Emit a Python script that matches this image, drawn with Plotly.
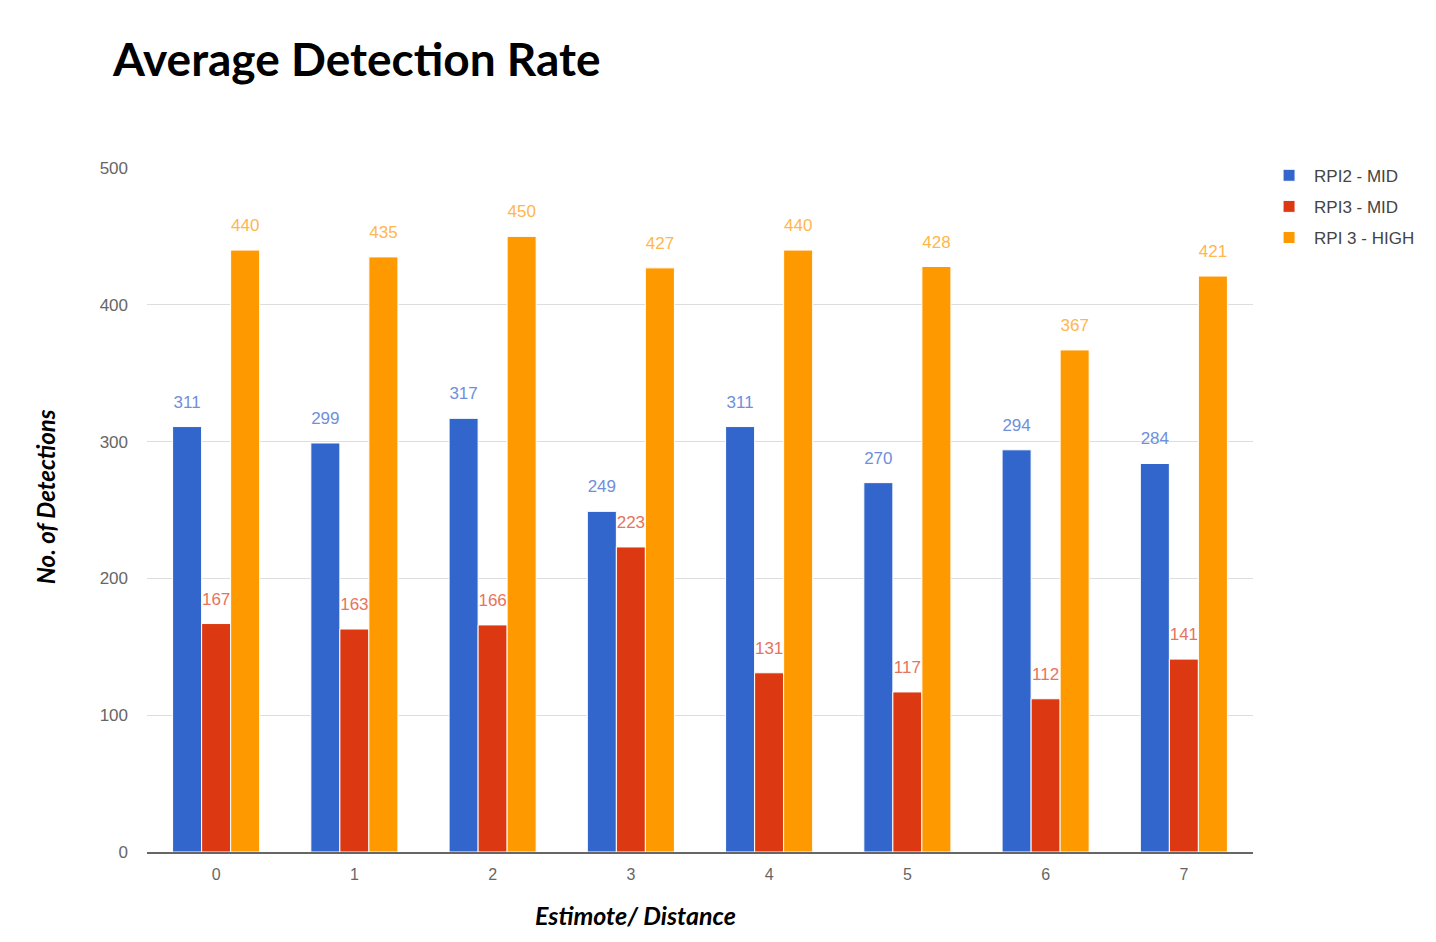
import plotly.graph_objects as go

# Datos
categorias = ["0", "1", "2", "3", "4", "5", "6", "7"]
rpi2_mid = [311, 299, 317, 249, 311, 270, 294, 284]
rpi3_mid = [167, 163, 166, 223, 131, 117, 112, 141]
rpi3_high = [440, 435, 450, 427, 440, 428, 367, 421]

series = [
    ("RPI2 - MID", rpi2_mid, "#3366cc", "#6f8fdc"),
    ("RPI3 - MID", rpi3_mid, "#dc3912", "#e8735c"),
    ("RPI 3 - HIGH", rpi3_high, "#ff9900", "#ffb64d"),
]

fig = go.Figure()
for nombre, valores, color, color_txt in series:
    fig.add_trace(go.Bar(
        x=categorias, y=valores, name=nombre, legendgroup=nombre,
        marker=dict(color=color, line=dict(color="white", width=1)),
    ))
# etiquetas de valores (scatter agrupado igual que las barras)
for nombre, valores, color, color_txt in series:
    fig.add_trace(go.Scatter(
        x=categorias, y=valores, mode="markers+text", showlegend=False,
        text=valores, textposition="top center", cliponaxis=False, hoverinfo="skip",
        marker=dict(size=22, opacity=0),
        textfont=dict(color=color_txt, size=17, family="Arial, Liberation Sans"),
    ))

fig.update_layout(
    width=1436, height=942,
    paper_bgcolor="white", plot_bgcolor="white",
    margin=dict(l=139, r=191, t=160, b=98),
    barmode="group", bargap=0.37, bargroupgap=0,
    scattermode="group", scattergap=0.37,
    title=dict(text="<b>Average Detection Rate</b>", x=105 / 1436, xanchor="left",
               y=1 - 52 / 942, yanchor="middle",
               font=dict(family="Lato", size=46, color="black")),
    legend=dict(x=1.01, xanchor="left", y=1.015, yanchor="top",
                font=dict(family="Arial, Liberation Sans", size=17, color="#444"),
                tracegroupgap=6, itemwidth=40),
    font=dict(family="Arial, Liberation Sans", size=17, color="#666"),
)
# titulos de ejes como anotaciones (no estan centrados en el original)
fig.add_annotation(text="<b><i>Estimote/ Distance</i></b>", xref="paper", yref="paper",
                   x=0.442, y=-0.092, xanchor="center", yanchor="middle", showarrow=False,
                   font=dict(family="Lato", size=25, color="black"))
fig.add_annotation(text="<b><i>No. of Detections</i></b>", xref="paper", yref="paper",
                   x=-0.092, y=0.519, xanchor="center", yanchor="middle", showarrow=False,
                   textangle=-90, font=dict(family="Lato", size=24, color="black"))
fig.update_xaxes(
    showline=True, linecolor="#666", linewidth=1.5, ticks="",
    tickfont=dict(size=16, color="#666"), ticklabelstandoff=7,
)
fig.update_yaxes(
    range=[0, 500], dtick=100, gridcolor="#dddddd", zeroline=False,
    tickfont=dict(size=17, color="#666"), ticklabelstandoff=18,
)

fig.write_html("out.html")
